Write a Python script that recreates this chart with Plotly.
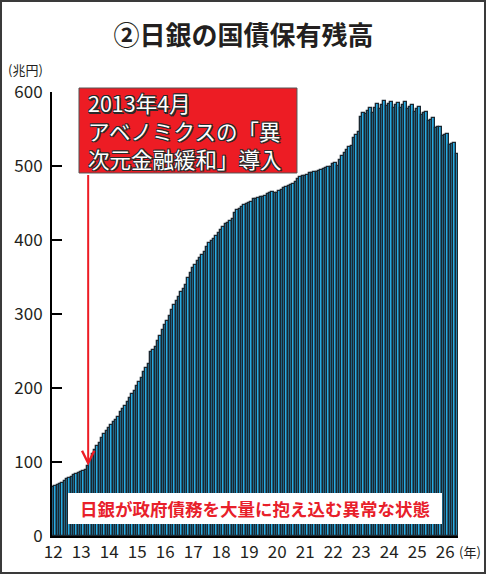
import plotly.graph_objects as go

# 日銀の国債保有残高（兆円）、2012年1月からの月次
jgb = [66, 67, 69, 70, 72, 74, 77, 79, 80, 83, 84, 85,
       87, 88, 89, 95, 103, 111, 116, 121, 126, 132, 138, 142,
       146, 150, 154, 157, 161, 167, 171, 176, 181, 186, 192, 196,
       203, 208, 214, 221, 227, 233, 248, 251, 256, 264, 270, 278,
       285, 291, 297, 305, 312, 318, 323, 330, 334, 339, 348, 356,
       362, 366, 372, 376, 380, 384, 391, 396, 399, 402, 406, 410,
       413, 417, 421, 423, 426, 429, 437, 440, 442, 445, 447, 448,
       450, 452, 455, 456, 457, 458, 458, 460, 462, 464, 465, 463,
       463, 466, 468, 470, 471, 473, 474, 476, 478, 482, 485, 486,
       487, 488, 490, 491, 492, 492, 493, 495, 496, 497, 498, 499,
       503, 504, 500, 508, 514, 518, 522, 526, 527, 538, 542, 546,
       566, 572, 570, 574, 578, 572, 579, 584, 577, 582, 588, 581,
       584, 586, 578, 582, 585, 578, 582, 586, 577, 580, 582, 573,
       577, 580, 569, 572, 573, 561, 562, 565, 551, 553, 553, 541,
       542, 543, 528, 530, 531, 516]
months = list(range(len(jgb)))
years = ["12", "13", "14", "15", "16", "17", "18", "19", "20",
         "21", "22", "23", "24", "25", "26"]
year_pos = [12 * i for i in range(len(years))]
yticks = [0, 100, 200, 300, 400, 500, 600]

jp = "Noto Sans CJK JP"
ink = "#231f20"
red = "#ed1c24"

fig = go.Figure(go.Bar(
    x=months, y=jgb,
    marker=dict(color="#29abe2", line=dict(color="#1a2730", width=1.3)),
    hoverinfo="x+y",
))

# 赤い箱の中の白抜き文字
outline = ("1.5px 1.5px 0 #2a2a2a, -1px -1px 0 #2a2a2a, 1px -1px 0 #2a2a2a, "
           "-1px 1px 0 #2a2a2a, 0 1.5px 0 #2a2a2a, 0 -1px 0 #2a2a2a")
box_text = "2013年4月<br>アベノミクスの「異<br>次元金融緩和」導入"

annots = [dict(
    text=box_text, xref="paper", yref="paper", x=0.084, y=0.9122,
    xanchor="left", yanchor="middle", align="left", showarrow=False,
    font=dict(family=jp, size=21.5, color="white", shadow=outline),
)]

# 2013年4月を指す矢印
annots.append(dict(
    x=15, y=jgb[15], ax=15, ay=490, xref="x", yref="y", axref="x", ayref="y",
    text="", showarrow=True, arrowhead=5, arrowsize=1.2, arrowwidth=2,
    arrowcolor=red, standoff=0,
))

annots.append(dict(
    text="日銀が政府債務を大量に抱え込む異常な状態",
    xref="paper", yref="paper", x=0.5, y=0.062,
    xanchor="center", yanchor="middle", showarrow=False,
    bgcolor="white", borderwidth=0, borderpad=1, width=372, height=29,
    font=dict(family=jp, size=17.5, color="#e8202a", weight="bold"),
))
annots.append(dict(
    text="(兆円)", xref="paper", yref="paper", x=-0.113, y=1.05,
    xanchor="left", yanchor="middle", showarrow=False,
    font=dict(family=jp, size=13, color=ink),
))
annots.append(dict(
    text="(年)", xref="paper", yref="paper", x=0.9975, y=-0.036,
    xanchor="left", yanchor="middle", showarrow=False,
    font=dict(family=jp, size=13, color=ink),
))

shapes = [
    dict(type="rect", xref="paper", yref="paper",
         x0=0.0665, x1=0.6034, y0=0.8176, y1=1.009,
         fillcolor=red, line=dict(color="#555555", width=1), layer="above"),
    dict(type="rect", xref="paper", yref="paper",
         x0=-0.1256, x1=1.0665, y0=-0.0833, y1=1.205,
         line=dict(color="#3a3a3a", width=2), fillcolor="rgba(0,0,0,0)"),
]

fig.update_layout(
    width=487, height=575,
    margin=dict(l=52, r=29, t=92, b=39),
    paper_bgcolor="white", plot_bgcolor="white",
    bargap=0, showlegend=False,
    title=dict(text="②日銀の国債保有残高", x=0.5, xanchor="center",
               y=1 - 36 / 575, yanchor="middle", yref="container",
               font=dict(family=jp, size=26, color=ink, weight="bold")),
    font=dict(family=jp, color=ink),
    annotations=annots, shapes=shapes,
)
fig.update_xaxes(
    range=[-0.5, len(jgb) - 0.5], tickvals=year_pos, ticktext=years,
    showline=True, linecolor="black", linewidth=2, ticks="",
    showgrid=False, zeroline=False, tickfont=dict(size=17, color=ink),
)
fig.update_yaxes(
    range=[0, 600], tickvals=yticks, showline=True, linecolor="black",
    linewidth=2, ticks="inside", ticklen=10, tickwidth=2, tickcolor="black",
    showgrid=False, zeroline=False, tickfont=dict(size=17, color=ink),
    ticklabelstandoff=4,
)

# ページの余白を消して 487x575 にぴったり合わせる
fig.write_html("out.html", config={"displayModeBar": False},
               post_script="document.body.style.margin='0';")
